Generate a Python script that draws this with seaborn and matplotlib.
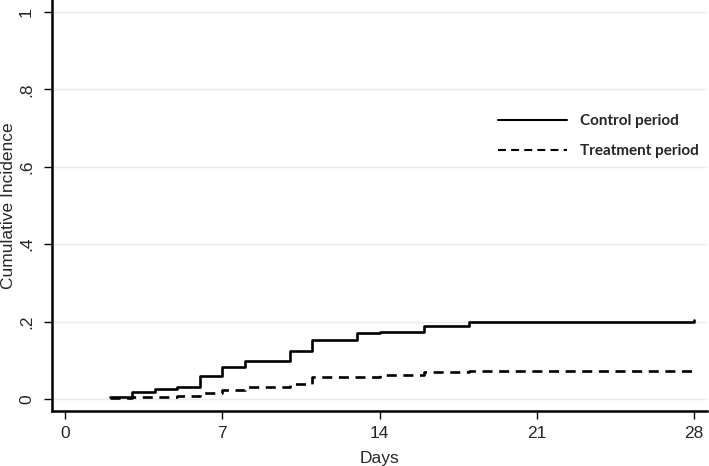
import matplotlib
matplotlib.use("Agg")
import matplotlib.pyplot as plt
import seaborn as sns
import pandas as pd

# Data
control_days = [2, 3, 4, 5, 6, 7, 8, 10, 11, 13, 14, 16, 18, 28]
control_ci = [0.005, 0.017, 0.025, 0.030, 0.059, 0.082, 0.097, 0.124, 0.152, 0.170, 0.174, 0.189, 0.198, 0.204]
treat_days = [2, 3, 5, 6, 7, 8, 10, 11, 14, 16, 18, 28]
treat_ci = [0.002, 0.004, 0.008, 0.016, 0.023, 0.031, 0.040, 0.056, 0.062, 0.069, 0.073, 0.073]
x_ticks = [0, 7, 14, 21, 28]
y_ticks = [0, 0.2, 0.4, 0.6, 0.8, 1.0]
y_ticklabels = ["0", ".2", ".4", ".6", ".8", "1"]

sns.set_style("white")
plt.rcParams['font.family'] = ['Liberation Sans', 'DejaVu Sans']

fig = plt.figure(figsize=(7.09, 4.66), dpi=100)
ax = fig.add_axes([52/709, 1 - 411/466, (707-52)/709, 411/466])

for y in y_ticks:
    ax.axhline(y, color="#eaeaea", lw=1.0, zorder=0)

df_c = pd.DataFrame({"Days": control_days, "ci": control_ci})
df_t = pd.DataFrame({"Days": treat_days, "ci": treat_ci})
sns.lineplot(data=df_c, x="Days", y="ci", ax=ax, color="black", lw=1.9,
             drawstyle="steps-post", label="Control period")
sns.lineplot(data=df_t, x="Days", y="ci", ax=ax, color="black", lw=1.9,
             drawstyle="steps-post", label="Treatment period")
ax.lines[-1].set_dashes((3.8, 2.5))

ax.set_xlim(-0.58, 28.58)
ax.set_ylim(-0.031, 1.031)
ax.set_xticks(x_ticks)
ax.set_yticks(y_ticks)
ax.set_yticklabels(y_ticklabels, rotation=90, va="center")
ax.tick_params(axis="both", which="major", direction="out", length=6, width=1.0,
               labelsize=12.5, color="black", left=True, bottom=True, pad=5)
ax.tick_params(axis="y", pad=7)
ax.set_xlabel("Days", fontsize=12.5, labelpad=7)
ax.set_ylabel("Cumulative Incidence", fontsize=12.5, labelpad=2)

for s in ["top", "right"]:
    ax.spines[s].set_visible(False)
for s in ["left", "bottom"]:
    ax.spines[s].set_linewidth(1.8)
    ax.spines[s].set_color("black")

leg = ax.legend(loc="upper left", bbox_to_anchor=(0.66, 0.755), frameon=False,
                handlelength=4.5, handletextpad=0.85, labelspacing=1.05,
                prop={"family": "Lato", "weight": "bold", "size": 11})
for h in leg.get_lines():
    h.set_linewidth(1.5)

fig.savefig("out.png", dpi=100)
